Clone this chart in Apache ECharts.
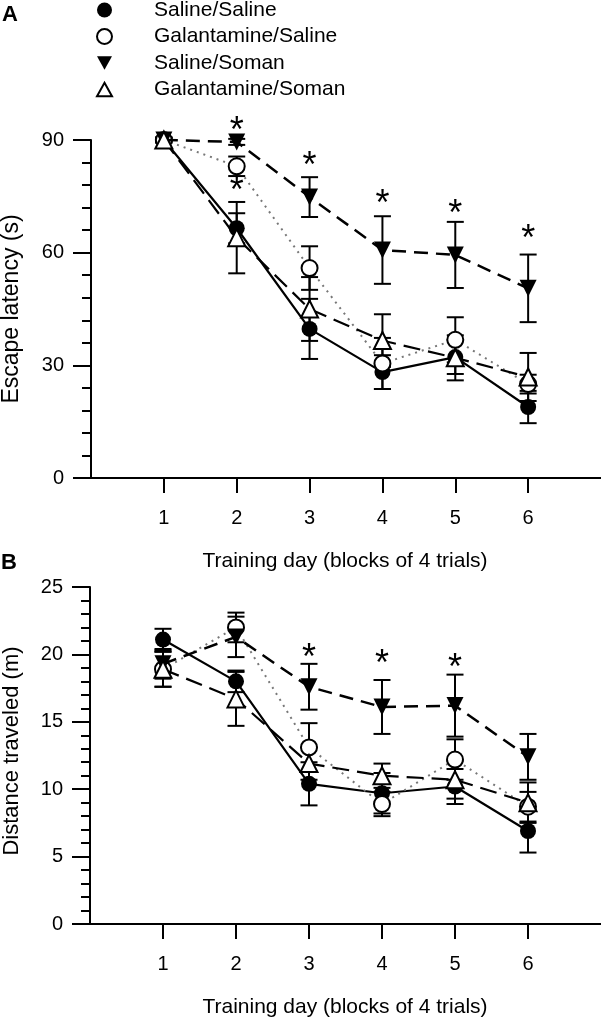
<!DOCTYPE html>
<html>
<head>
<meta charset="utf-8">
<script src="https://cdn.jsdelivr.net/npm/echarts@6/dist/echarts.min.js"></script>
<style>html,body{margin:0;padding:0;background:#fff;}#c{width:601px;height:1020px;}</style>
</head>
<body>
<div id="c"></div>
<script>
// ---- data ----
const days = [1, 2, 3, 4, 5, 6];
const groups = ['Saline/Saline', 'Galantamine/Saline', 'Saline/Soman', 'Galantamine/Soman'];

// Panel A: escape latency (s)
const latSalSal = [90, 66.5, 39.7, 28.2, 32.2, 18.9];
const latSalSalSE = [0.8, 4.0, 8.0, 4.5, 4.5, 4.3];
const latGalSal = [90, 83.0, 55.9, 30.5, 36.8, 25.0];
const latGalSalSE = [0.5, 2.6, 5.8, 6.8, 6.0, 2.5];
const latSalSom = [90, 89.5, 74.8, 60.7, 59.4, 50.5];
const latSalSomSE = [0.5, 0.8, 5.3, 9.0, 8.8, 9.0];
const latGalSom = [90, 64.0, 45.0, 36.6, 32.0, 26.9];
const latGalSomSE = [0.5, 9.5, 8.5, 7.0, 6.0, 6.4];
const starsAX = [2, 2, 3, 4, 5, 6];
const starsAY = [94, 78, 84.7, 74.5, 71.9, 65.2];

// Panel B: distance traveled (m)
const distSalSal = [21.1, 18.0, 10.4, 9.7, 10.2, 6.9];
const distSalSalSE = [0.8, 0.8, 1.6, 1.5, 1.3, 1.6];
const distGalSal = [18.9, 22.0, 13.1, 8.9, 12.2, 8.7];
const distGalSalSE = [1.3, 1.1, 1.8, 0.9, 1.5, 1.1];
const distSalSom = [19.3, 21.3, 17.6, 16.1, 16.2, 12.4];
const distSalSomSE = [1.1, 1.5, 1.7, 2.0, 2.3, 1.7];
const distGalSom = [18.9, 16.7, 11.9, 11.0, 10.7, 9.0];
const distGalSomSE = [1.3, 2.0, 1.2, 0.9, 1.4, 1.5];
const starsBX = [3, 4, 5];
const starsBY = [20.2, 19.7, 19.4];

const yTicksA = [0, 30, 60, 90];
const yTicksB = [0, 5, 10, 15, 20, 25];
const xTickLabels = ['1', '2', '3', '4', '5', '6'];

// ---- styles ----
const FONT = 'Liberation Sans, Arial, Helvetica, sans-serif';
const styles = [
  { symbol: 'circle', rotate: 0, fill: '#000', line: { color: '#000', width: 2.2, type: 'solid' } },
  { symbol: 'circle', rotate: 0, fill: '#fff', line: { color: '#777', width: 2, type: [2, 5] } },
  { symbol: 'triangle', rotate: 180, fill: '#000', line: { color: '#000', width: 2.5, type: [14, 8] } },
  { symbol: 'triangle', rotate: 0, fill: '#fff', line: { color: '#000', width: 2.2, type: [17, 8] } }
];

function xAxisCfg(gi) {
  return {
    gridIndex: gi, type: 'value', min: 0, max: 7, interval: 1,
    axisLine: { show: true, lineStyle: { color: '#000', width: 2 } },
    axisTick: { show: true, length: 15, lineStyle: { color: '#000', width: 2 }, customValues: days },
    axisLabel: { show: true, margin: 30, fontSize: 20, color: '#000', fontFamily: FONT, customValues: days,
      formatter: v => (v >= 1 && v <= 6 ? xTickLabels[v - 1] : '') },
    splitLine: { show: false }
  };
}
function yAxisCfg(gi, max, interval) {
  return {
    gridIndex: gi, type: 'value', min: 0, max: max, interval: interval,
    axisLine: { show: true, lineStyle: { color: '#000', width: 2 } },
    axisTick: { show: true, length: 18, lineStyle: { color: '#000', width: 2 } },
    minorTick: { show: true, splitNumber: 5, length: 9, lineStyle: { color: '#000', width: 2 } },
    axisLabel: { margin: 27, fontSize: 20, color: '#000', fontFamily: FONT },
    splitLine: { show: false }
  };
}

function errSeries(gi, vals, se) {
  return {
    type: 'custom', xAxisIndex: gi, yAxisIndex: gi, z: 2, clip: false, silent: true,
    data: days.map((d, i) => [d, vals[i] - se[i], vals[i] + se[i]]),
    encode: { x: 0, y: [1, 2] },
    renderItem: function (params, api) {
      const x = api.value(0);
      const lo = api.coord([x, api.value(1)]);
      const hi = api.coord([x, api.value(2)]);
      const hw = 8.5;
      const ls = { stroke: '#000', lineWidth: 2 };
      return { type: 'group', children: [
        { type: 'line', shape: { x1: lo[0], y1: lo[1], x2: hi[0], y2: hi[1] }, style: ls },
        { type: 'line', shape: { x1: lo[0] - hw, y1: lo[1], x2: lo[0] + hw, y2: lo[1] }, style: ls },
        { type: 'line', shape: { x1: hi[0] - hw, y1: hi[1], x2: hi[0] + hw, y2: hi[1] }, style: ls }
      ] };
    }
  };
}
function lineSeries(gi, k, vals) {
  const s = styles[k];
  return {
    type: 'line', name: groups[k], xAxisIndex: gi, yAxisIndex: gi, z: 3 + k * 0.1, clip: false,
    data: days.map((d, i) => [d, vals[i]]),
    symbol: s.symbol, symbolRotate: s.rotate, symbolSize: s.symbol === 'circle' ? 16 : 17,
    itemStyle: { color: s.fill, borderColor: '#000', borderWidth: s.fill === '#fff' ? 2 : 0, opacity: 1 },
    lineStyle: s.line, emphasis: { disabled: true }, animation: false
  };
}
function starSeries(gi, xs, ys) {
  return {
    type: 'custom', xAxisIndex: gi, yAxisIndex: gi, z: 5, clip: false, silent: true,
    data: xs.map((x, i) => [x, ys[i]]),
    renderItem: function (params, api) {
      const p = api.coord([api.value(0), api.value(1)]);
      return { type: 'text', x: p[0], y: p[1] + 7,
        style: { text: '*', fontSize: 36, fontFamily: FONT, fill: '#000', align: 'center', verticalAlign: 'middle' } };
    }
  };
}

const series = [
  errSeries(0, latSalSal, latSalSalSE), errSeries(0, latGalSal, latGalSalSE),
  errSeries(0, latSalSom, latSalSomSE), errSeries(0, latGalSom, latGalSomSE),
  lineSeries(0, 1, latGalSal), lineSeries(0, 3, latGalSom), lineSeries(0, 0, latSalSal), lineSeries(0, 2, latSalSom),
  starSeries(0, starsAX, starsAY),
  errSeries(1, distSalSal, distSalSalSE), errSeries(1, distGalSal, distGalSalSE),
  errSeries(1, distSalSom, distSalSomSE), errSeries(1, distGalSom, distGalSomSE),
  lineSeries(1, 1, distGalSal), lineSeries(1, 3, distGalSom), lineSeries(1, 0, distSalSal), lineSeries(1, 2, distSalSom),
  starSeries(1, starsBX, starsBY)
];

const legendIcons = ['circle', 'circle', 'path://M0,0L10,0L5,9Z', 'path://M5,0L10,9L0,9Z'];

const option = {
  backgroundColor: '#fff',
  animation: false,
  grid: [
    { left: 91, top: 140, width: 511, height: 338 },
    { left: 90, top: 587, width: 511, height: 337 }
  ],
  xAxis: [xAxisCfg(0), xAxisCfg(1)],
  yAxis: [yAxisCfg(0, 90, 30), yAxisCfg(1, 25, 5)],
  legend: {
    orient: 'vertical', left: 91, top: -8, itemGap: 0.5, itemWidth: 15, itemHeight: 15,
    selectedMode: false,
    textStyle: { fontSize: 21, fontFamily: FONT, color: '#000', lineHeight: 26, padding: [0, 0, 0, 37] },
    data: groups.map((g, k) => ({
      name: g, icon: legendIcons[k],
      itemStyle: { color: styles[k].fill, borderColor: '#000', borderWidth: styles[k].fill === '#fff' ? 2 : 0 }
    }))
  },
  graphic: [
    { type: 'text', left: 2, top: 4, style: { text: 'A', fontSize: 22, fontWeight: 'bold', fontFamily: FONT, fill: '#000' } },
    { type: 'text', left: 1, top: 552, style: { text: 'B', fontSize: 22, fontWeight: 'bold', fontFamily: FONT, fill: '#000' } },
    { type: 'text', x: 345, y: 561, style: { text: 'Training day (blocks of 4 trials)', fontSize: 21, fontFamily: FONT, fill: '#000', align: 'center', verticalAlign: 'middle' } },
    { type: 'text', x: 345, y: 1007, style: { text: 'Training day (blocks of 4 trials)', fontSize: 21, fontFamily: FONT, fill: '#000', align: 'center', verticalAlign: 'middle' } },
    { type: 'text', x: 12, y: 309, rotation: Math.PI / 2, style: { text: 'Escape latency (s)', fontSize: 23, fontFamily: FONT, fill: '#000', align: 'center', verticalAlign: 'middle' } },
    { type: 'text', x: 12, y: 751, rotation: Math.PI / 2, style: { text: 'Distance traveled (m)', fontSize: 22, fontFamily: FONT, fill: '#000', align: 'center', verticalAlign: 'middle' } }
  ],
  series: series
};

const chart = echarts.init(document.getElementById('c'), null, { renderer: 'canvas' });
chart.setOption(option);
</script>
</body>
</html>
